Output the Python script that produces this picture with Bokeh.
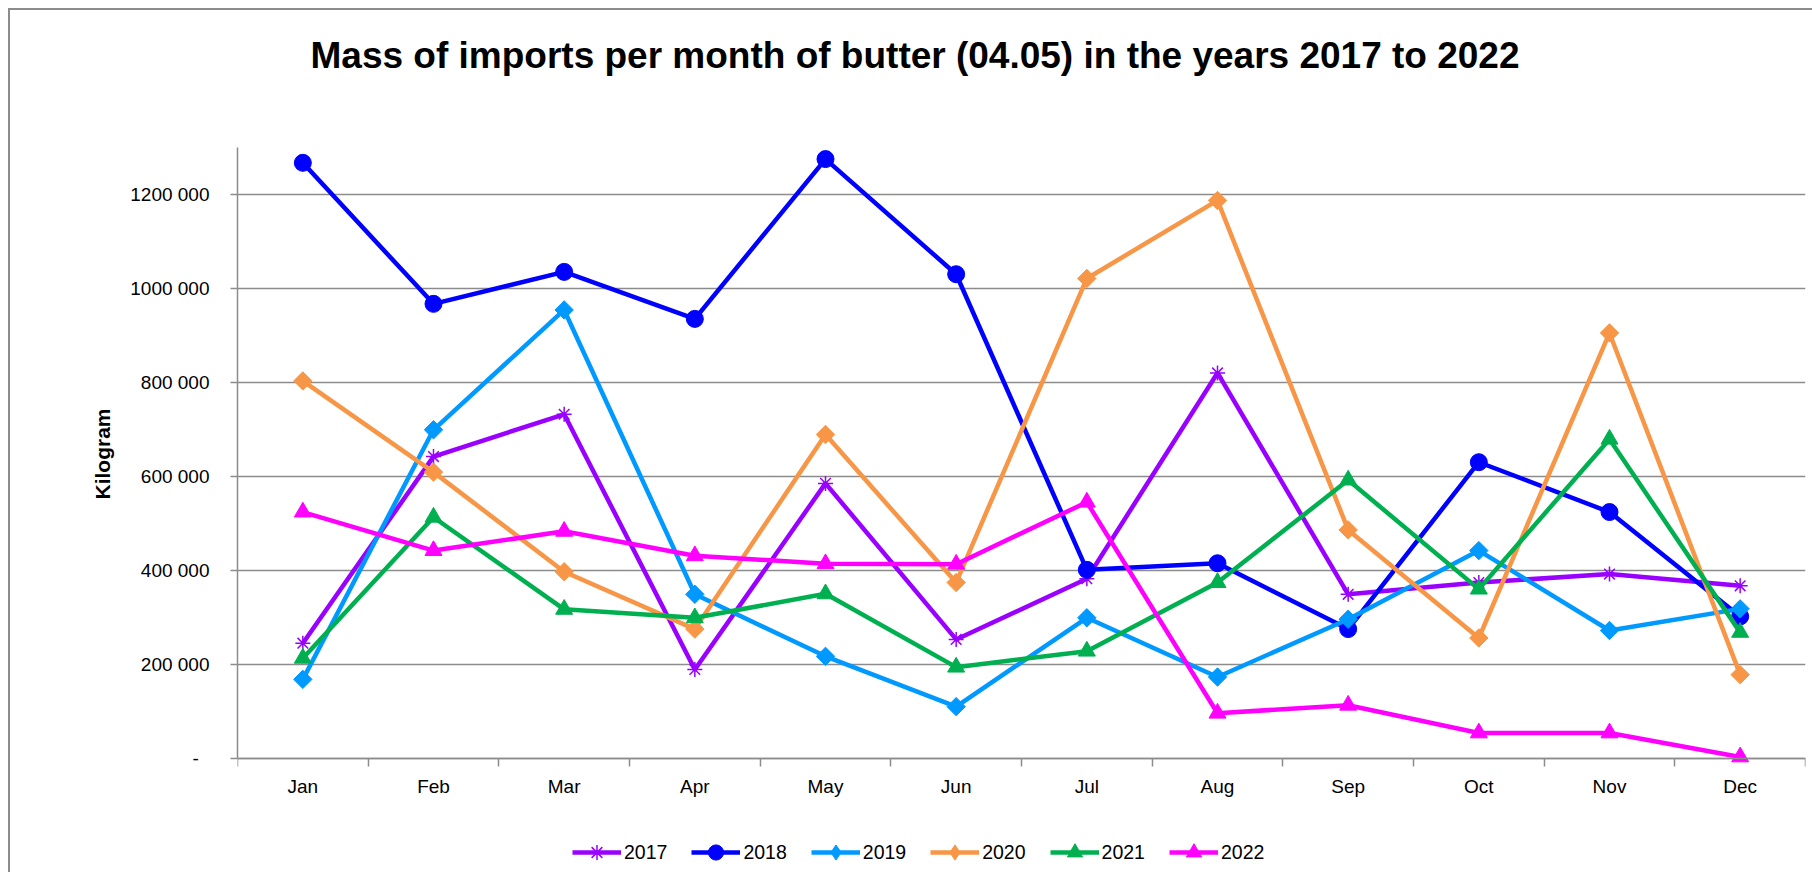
import numpy as np
from bokeh.plotting import figure
from bokeh.models import FixedTicker, Legend, LegendItem, Range1d, Label
from bokeh.embed import file_html
from bokeh.resources import INLINE

months = ["Jan", "Feb", "Mar", "Apr", "May", "Jun", "Jul", "Aug", "Sep", "Oct", "Nov", "Dec"]
years = ["2017", "2018", "2019", "2020", "2021", "2022"]

v2017 = [246000, 643000, 733000, 190000, 586000, 254000, 383000, 821000, 350000, 375000, 393000, 368000]
v2018 = [1268000, 968000, 1036000, 936000, 1276000, 1031000, 402000, 416000, 276000, 631000, 525000, 303000]
v2019 = [169000, 700000, 955000, 350000, 218000, 111000, 300000, 174000, 297000, 443000, 273000, 319000]
v2020 = [804000, 610000, 398000, 276000, 690000, 375000, 1022000, 1188000, 487000, 257000, 906000, 179000]
v2021 = [214000, 514000, 318000, 300000, 351000, 195000, 229000, 375000, 593000, 361000, 680000, 269000]
v2022 = [525000, 443000, 484000, 432000, 415000, 414000, 546000, 97000, 114000, 55000, 55000, 4000]

y_ticks = [0, 200000, 400000, 600000, 800000, 1000000, 1200000]
y_tick_labels = ["-\u00a0\u00a0", "200 000", "400 000", "600 000", "800 000", "1000 000", "1200 000"]
Y_MAX = 1300000

series = [v2017, v2018, v2019, v2020, v2021, v2022]
colors = ["#9900FF", "#0000FF", "#0099FF", "#F79646", "#00B050", "#FF00FF"]
markers = ["asterisk", "circle", "square", "square", "triangle", "triangle"]
legend_markers = ["asterisk", "circle", "diamond", "diamond", "triangle", "triangle"]
msizes = [15, 17, 13, 13, 17, 17]
mangles = [0, 0, np.pi / 4, np.pi / 4, 0, 0]

FONT = "Liberation Sans"
GRID = "#8c8c8c"

# layout (pixels): figure 1812x872, plot area from x=237..1805, y=147 (top of axis) .. 758 (zero line)
W, H = 1812, 872
LEFT, RIGHT_PAD = 237, 7
Y_TOP_PX, Y_ZERO_PX = 147.3, 758.3
per_px = Y_MAX / (Y_ZERO_PX - Y_TOP_PX)
y_lo = -(H - Y_ZERO_PX) * per_px
y_hi = Y_MAX + Y_TOP_PX * per_px

p = figure(width=W, height=H, output_backend="svg", toolbar_location=None,
           x_range=Range1d(0, 12), y_range=Range1d(y_lo, y_hi),
           min_border_left=LEFT, min_border_right=RIGHT_PAD, min_border_top=0, min_border_bottom=0,
           border_fill_color=None, background_fill_color=None, outline_line_color=None)
p.styles = {
    "background": ("linear-gradient(#8c8c8c,#8c8c8c) 8px 8px / 100% 2px no-repeat, "
                   "linear-gradient(#8c8c8c,#8c8c8c) 8px 8px / 2px 100% no-repeat, white"),
}

# title
title_x = 12 * (310 - LEFT) / (W - RIGHT_PAD - LEFT)
title_y = (Y_ZERO_PX - 55) * per_px
p.add_layout(Label(x=title_x, y=title_y, text="Mass of imports per month of butter (04.05) in the years 2017 to 2022",
                   text_font=FONT, text_font_size="37px", text_font_style="bold", text_color="black",
                   text_align="left", text_baseline="middle"))

# x axis: labels at category centres, ticks at category boundaries
xpos = np.arange(len(months)) + 0.5
p.xaxis.fixed_location = 0
p.xaxis.ticker = FixedTicker(ticks=list(xpos), minor_ticks=list(range(len(months) + 1)))
p.xaxis.major_label_overrides = {float(x): m for x, m in zip(xpos, months)}
p.xaxis.major_tick_out = 0
p.xaxis.major_tick_in = 0
p.xaxis.minor_tick_out = 8
p.xaxis.minor_tick_in = 0
p.xaxis.minor_tick_line_color = GRID
p.xaxis.minor_tick_line_width = 1.5
p.xaxis.axis_line_color = GRID
p.xaxis.axis_line_width = 1.5
p.xaxis.major_label_text_font = FONT
p.xaxis.major_label_text_font_size = "19px"
p.xaxis.major_label_text_color = "black"
p.xaxis.major_label_standoff = 9
p.xgrid.grid_line_color = None

p.yaxis.bounds = (0, Y_MAX)
p.yaxis.ticker = FixedTicker(ticks=y_ticks, minor_ticks=[])
p.yaxis.major_label_overrides = {t: l for t, l in zip(y_ticks, y_tick_labels)}
p.yaxis.major_tick_out = 7
p.yaxis.major_tick_in = 0
p.yaxis.major_tick_line_color = GRID
p.yaxis.major_tick_line_width = 1.5
p.yaxis.axis_line_color = GRID
p.yaxis.axis_line_width = 1.5
p.yaxis.major_label_text_font = FONT
p.yaxis.major_label_text_font_size = "19px"
p.yaxis.major_label_text_color = "black"
p.yaxis.major_label_standoff = 21
# the label is centred on the whole frame; trailing no-break spaces move it to the middle of the axis
p.yaxis.axis_label = "Kilogram" + "\u00a0" * 6
p.yaxis.axis_label_text_font = FONT
p.yaxis.axis_label_text_font_size = "21px"
p.yaxis.axis_label_text_font_style = "bold"
p.yaxis.axis_label_text_color = "black"
p.yaxis.axis_label_standoff = 13
p.ygrid.grid_line_color = GRID
p.ygrid.grid_line_width = 1.5

items = []
for yr, vals, c, m, lm, s, a in zip(years, series, colors, markers, legend_markers, msizes, mangles):
    r1 = p.line(xpos, vals, line_color=c, line_width=4.5)
    key = r1
    if lm != m:
        # diamond key glyph, drawn under (and hidden by) the rotated-square markers
        key = p.scatter(xpos, vals, marker=lm, size=s, fill_color=c, line_color=c)
    r2 = p.scatter(xpos, vals, marker=m, size=s, angle=a, fill_color=c, line_color=c,
                   line_width=1.5 if m == "asterisk" else 1)
    if key is r1:
        key = r2
    items.append(LegendItem(label=yr, renderers=[r1, key]))

legend = Legend(items=items, orientation="horizontal", location=(335, 1),
                glyph_width=49, glyph_height=38, label_standoff=3, spacing=24,
                padding=0, margin=0, border_line_color=None, background_fill_alpha=0,
                label_text_font=FONT, label_text_font_size="19.5px", label_text_color="black")
p.add_layout(legend)

open("out.html", "w").write(file_html(p, INLINE))
